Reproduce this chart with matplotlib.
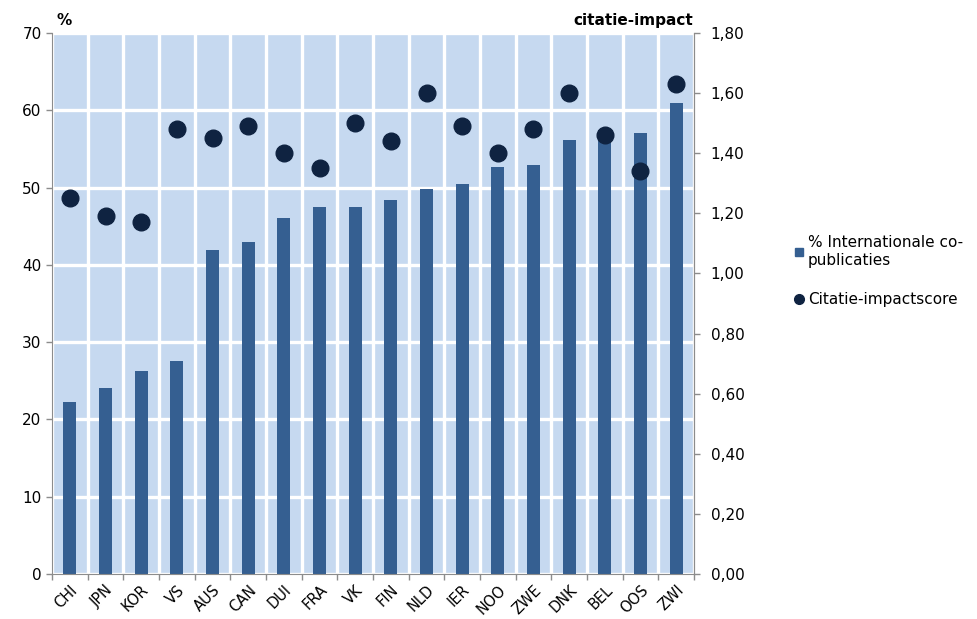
import numpy as np
import matplotlib.pyplot as plt
from matplotlib.lines import Line2D

landen = ['CHI', 'JPN', 'KOR', 'VS', 'AUS', 'CAN', 'DUI', 'FRA', 'VK', 'FIN',
          'NLD', 'IER', 'NOO', 'ZWE', 'DNK', 'BEL', 'OOS', 'ZWI']
pct_internationaal = [22.2, 24.1, 26.3, 27.6, 41.9, 42.9, 46.1, 47.5, 47.5, 48.4,
                      49.8, 50.5, 52.7, 52.9, 56.1, 57.4, 57.1, 61.0]
citatie_impact = [1.25, 1.19, 1.17, 1.48, 1.45, 1.49, 1.40, 1.35, 1.50, 1.44,
                  1.60, 1.49, 1.40, 1.48, 1.60, 1.46, 1.34, 1.63]

bar_kleur = '#355F91'
dot_kleur = '#0F2341'
achtergrond = '#C6D9F0'
as_kleur = '#8C8C8C'

plt.rcParams['font.family'] = 'DejaVu Sans'

fig = plt.figure(figsize=(9.78, 6.19), dpi=100)
ax = fig.add_axes([0.0532, 0.0727, 0.6564, 0.874])
ax.set_facecolor(achtergrond)

x = np.arange(len(landen))
ax.bar(x, pct_internationaal, width=0.37, color=bar_kleur, zorder=3)
ax.set_xlim(-0.5, len(landen) - 0.5)
ax.set_ylim(0, 70)
ax.set_yticks(np.arange(0, 71, 10))
ax.tick_params(axis='y', labelsize=11, colors=as_kleur, labelcolor='black', length=4, width=1)

ax.set_xticks(x)
ax.set_xticklabels(landen, rotation=45, ha='right', va='top', rotation_mode='anchor', fontsize=10.5)
ax.tick_params(axis='x', which='major', length=0, pad=6)
ax.set_xticks(np.arange(-0.5, len(landen), 1), minor=True)
ax.tick_params(axis='x', which='minor', length=4, color=as_kleur, width=1)

# witte rasterlijnen over de blauwe achtergrond
ax.grid(True, axis='y', which='major', color='white', linewidth=2.4, zorder=1)
ax.grid(True, axis='x', which='minor', color='white', linewidth=2.4, zorder=1)
ax.set_axisbelow(True)

ax.spines['top'].set_visible(False)
for s in ['left', 'bottom', 'right']:
    ax.spines[s].set_color(as_kleur)
    ax.spines[s].set_zorder(4)

ax2 = ax.twinx()
ax2.plot(x, citatie_impact, 'o', color=dot_kleur, markersize=12, zorder=5)
ax2.set_ylim(0, 1.8)
ax2.set_yticks(np.arange(0, 1.81, 0.2))
ax2.set_yticklabels([('%.2f' % v).replace('.', ',') for v in np.arange(0, 1.81, 0.2)])
ax2.tick_params(axis='y', labelsize=11, colors=as_kleur, labelcolor='black', length=4, width=1, pad=8)
ax2.spines['top'].set_visible(False)
ax2.spines['left'].set_visible(False)
ax2.spines['bottom'].set_visible(False)
ax2.spines['right'].set_color(as_kleur)

fig.text(0.058, 0.955, '%', fontsize=11, fontweight='bold', ha='left', va='bottom')
fig.text(0.709, 0.955, 'citatie-impact', fontsize=11, fontweight='bold', ha='right', va='bottom')

handles = [Line2D([], [], marker='s', color=bar_kleur, linestyle='', markersize=6),
           Line2D([], [], marker='o', color=dot_kleur, linestyle='', markersize=7)]
fig.legend(handles, ['% Internationale co-\npublicaties', 'Citatie-impactscore'],
           loc='center left', bbox_to_anchor=(0.798, 0.562), frameon=False, fontsize=11,
           handlelength=0.6, handletextpad=0.3, labelspacing=1.6)

fig.savefig('out.png', dpi=100)
